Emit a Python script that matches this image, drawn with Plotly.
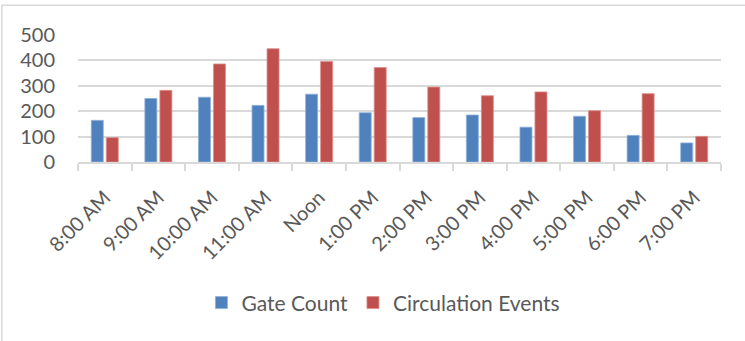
import plotly.graph_objects as go

# Hourly library activity
hours = ["8:00 AM", "9:00 AM", "10:00 AM", "11:00 AM", "Noon", "1:00 PM",
         "2:00 PM", "3:00 PM", "4:00 PM", "5:00 PM", "6:00 PM", "7:00 PM"]
gate_count = [164, 250, 255, 223, 267, 194, 175, 185, 137, 180, 105, 75]
circulation_events = [96, 282, 386, 446, 396, 372, 295, 261, 276, 202, 269, 101]
y_ticks = [0, 100, 200, 300, 400, 500]

BLUE = "#4F81BD"
RED = "#C0504D"
GRID = "#D9D9D9"
TEXT = "#595959"
FONT = "Lato"

fig = go.Figure()
fig.add_trace(go.Bar(
    name="Gate Count", x=hours, y=gate_count,
    marker=dict(color=BLUE, line=dict(color="#8FB0D8", width=0.8)),
))
fig.add_trace(go.Bar(
    name="Circulation Events", x=hours, y=circulation_events,
    marker=dict(color=RED, line=dict(color="#DC8E8C", width=0.8)),
))

fig.update_layout(
    width=745, height=341,
    margin=dict(l=78, r=24, t=35, b=179, pad=0),
    paper_bgcolor="white", plot_bgcolor="white",
    barmode="group", bargap=0.44, bargroupgap=0.2,
    font=dict(family=FONT, size=20, color=TEXT),
    showlegend=True,
    legend=dict(
        orientation="h", x=0.475, xanchor="center", y=-1.11, yanchor="middle",
        font=dict(family=FONT, size=21, color=TEXT),
        itemwidth=30, tracegroupgap=0,
    ),
    shapes=[dict(
        type="rect", xref="paper", yref="paper",
        x0=-0.1185, x1=1.3, y0=-1.6, y1=1.2335,
        line=dict(color=GRID, width=1.5), fillcolor="rgba(0,0,0,0)", layer="below",
    )],
)

fig.update_xaxes(
    type="category", tickangle=-45,
    showline=True, linecolor=GRID, linewidth=2,
    ticks="outside", ticklen=7, tickwidth=2, tickcolor=GRID,
    tickson="boundaries", showgrid=False, ticklabelstandoff=14,
    tickfont=dict(family=FONT, size=20, color=TEXT),
)
fig.update_yaxes(
    range=[0, 500], tickvals=y_ticks, showgrid=True,
    gridcolor=GRID, gridwidth=1.5, zeroline=False,
    showline=False, ticks="", ticklabelstandoff=22,
    tickfont=dict(family=FONT, size=20, color=TEXT),
)

fig.write_html("out.html")
